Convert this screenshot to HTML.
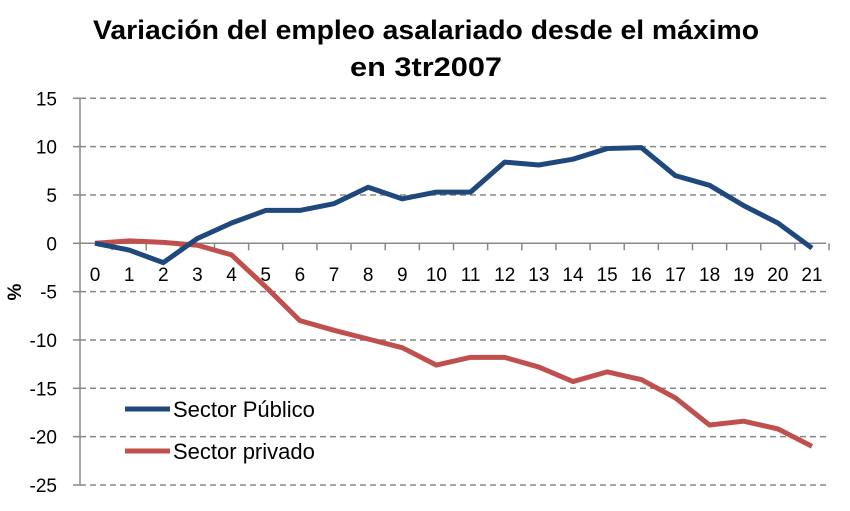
<!DOCTYPE html>
<html><head><meta charset="utf-8"><style>
body{margin:0;background:#fff;}
svg{display:block;font-family:"Liberation Sans",sans-serif;}
</style></head><body>
<svg id="chart" width="850" height="511">
<text x="426" y="39" text-anchor="middle" font-size="27" font-weight="bold" textLength="666" lengthAdjust="spacingAndGlyphs">Variación del empleo asalariado desde el máximo</text>
<text x="426" y="76" text-anchor="middle" font-size="27" font-weight="bold" textLength="152" lengthAdjust="spacingAndGlyphs">en 3tr2007</text>
<text transform="translate(21,292) rotate(-90)" text-anchor="middle" font-size="19" font-weight="bold">%</text>
<g id="grid"></g><g id="axes"></g><g id="series"></g>
<g>
<line x1="125" y1="409" x2="170" y2="409" stroke="#1f497d" stroke-width="5"/>
<text x="173" y="417" font-size="22">Sector Público</text>
<line x1="125" y1="451" x2="170" y2="451" stroke="#c0504d" stroke-width="5"/>
<text x="173" y="459" font-size="22">Sector privado</text>
</g>
</svg>
<script>
const categories=[0,1,2,3,4,5,6,7,8,9,10,11,12,13,14,15,16,17,18,19,20,21];
const publico=[0,-0.7,-2.0,0.5,2.1,3.4,3.4,4.1,5.8,4.6,5.3,5.3,8.4,8.1,8.7,9.8,9.9,7.0,6.0,3.9,2.1,-0.5];
const privado=[0,0.25,0.1,-0.2,-1.2,-4.5,-8.0,-9.0,-9.9,-10.8,-12.6,-11.8,-11.8,-12.8,-14.3,-13.3,-14.1,-16.0,-18.8,-18.4,-19.2,-21.0];
const yTicks=[15,10,5,0,-5,-10,-15,-20,-25];
const NS="http://www.w3.org/2000/svg";
const x=i=>95+i*(812-95)/21;
const y=v=>243.3-v*9.667;
function mk(tag,attrs,parent){const e=document.createElementNS(NS,tag);for(const k in attrs)e.setAttribute(k,attrs[k]);parent.appendChild(e);return e;}
const grid=document.getElementById('grid'),axes=document.getElementById('axes'),series=document.getElementById('series');
yTicks.forEach(t=>{
  if(t!==0){const l=mk('line',{x1:80,x2:826,y1:y(t),y2:y(t),stroke:'#888','stroke-width':1.5,'stroke-dasharray':'6,4'},grid);
  
  }
  const tk=mk('line',{x1:73,x2:80,y1:y(t),y2:y(t),stroke:'#888','stroke-width':1.5},axes);
  
  
  const tx=mk('text',{x:57,y:y(t)+7,'text-anchor':'end','font-size':19},axes);
  tx.textContent=t;
  
  
});
const ya=mk('line',{x1:80,x2:80,y1:y(15),y2:y(-25),stroke:'#888','stroke-width':1.5},axes);


const xa=mk('line',{x1:80,x2:826,y1:y(0),y2:y(0),stroke:'#888','stroke-width':1.5},axes);


categories.forEach((c,i)=>{
  const bx=x(i)+(x(1)-x(0))/2;
  const tk=mk('line',{x1:bx,x2:bx,y1:y(0),y2:y(0)+7,stroke:'#888','stroke-width':1.5},axes);
  
  
  const tx=mk('text',{x:x(i),y:281,'text-anchor':'middle','font-size':19},axes);
  tx.textContent=c;
  
  
});
function line(data,color,name){
  const p=mk('polyline',{points:data.map((v,i)=>x(i)+','+y(v)).join(' '),fill:'none',stroke:color,'stroke-width':5,'stroke-linejoin':'round'},series);
  
  
}
line(privado,'#c0504d','line-sector-privado');
line(publico,'#1f497d','line-sector-publico');
</script>
</body></html>
